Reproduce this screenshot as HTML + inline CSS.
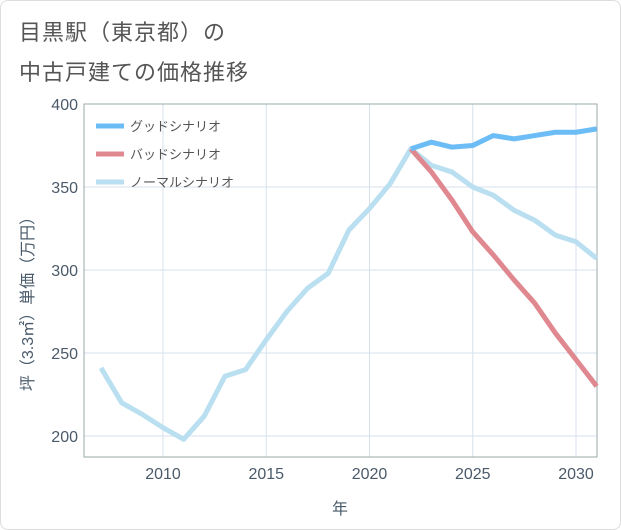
<!DOCTYPE html>
<html><head><meta charset="utf-8">
<style>
body{margin:0;background:#fff;}
#wrap{position:relative;width:619px;height:528px;border:1px solid #ddd;border-radius:8px;background:#fff;overflow:hidden;font-family:"Liberation Sans","Noto Sans CJK JP",sans-serif;}
.title{position:absolute;left:18px;font-size:22px;color:#555;letter-spacing:1px;}
</style></head><body>
<div id="wrap">
<div class="title" style="top:14px">目黒駅（東京都）の</div>
<div class="title" style="top:54px">中古戸建ての価格推移</div>
<svg id="chart" width="621" height="530" style="position:absolute;left:-1px;top:-1px"></svg>
</div>
<script>
const years=[2007,2008,2009,2010,2011,2012,2013,2014,2015,2016,2017,2018,2019,2020,2021,2022,2023,2024,2025,2026,2027,2028,2029,2030,2031];
const normalVals=[241,220,213,205,198,212,236,240,258,275,289,298,324,337,352,373,363,359,350,345,336,330,321,317,307];
const scenarioYears=[2022,2023,2024,2025,2026,2027,2028,2029,2030,2031];
const goodVals=[373,377,374,375,381,379,381,383,383,385];
const badVals=[373,359,342,323,309,294,280,262,246,230];
const xTicks=[2010,2015,2020,2025,2030];
const yTicks=[200,250,300,350,400];
const NS="http://www.w3.org/2000/svg";
const svg=document.getElementById('chart');
const L=84,R=597,T=104,B=457;
const x=v=>163+(v-2010)*(576-163)/20;
const y=v=>436-(v-200)*(436-104)/200;
function mk(tag,attrs){const e=document.createElementNS(NS,tag);for(const k in attrs)e.setAttribute(k,attrs[k]);svg.appendChild(e);return e;}
const bg=mk('rect',{x:L,y:T,width:R-L,height:B-T,fill:'#fff',stroke:'none'});


xTicks.forEach(t=>{
 const g=mk('line',{x1:x(t),x2:x(t),y1:T,y2:B,stroke:'#d5e2ec','stroke-width':1});
 
 
 const tx=mk('text',{x:x(t),y:B+22,'text-anchor':'middle','font-size':16,fill:'#4a5a6a'});
 tx.textContent=t;
 
 
});
yTicks.forEach(t=>{
 const g=mk('line',{x1:L,x2:R,y1:y(t),y2:y(t),stroke:'#d5e2ec','stroke-width':1});
 
 
 const tx=mk('text',{x:L-6,y:y(t)+6,'text-anchor':'end','font-size':16,fill:'#4a5a6a'});
 tx.textContent=t;
 
 
});
const fr=mk('rect',{x:L,y:T,width:R-L,height:B-T,fill:'none',stroke:'#9aa',"stroke-width":1});


function line(xs,vs,color,name){
 const p=mk('polyline',{points:xs.map((v,i)=>x(v)+','+y(vs[i])).join(' '),fill:'none',stroke:color,'stroke-width':5,'stroke-linejoin':'round'});
 
 
}
line(years,normalVals,'#b9dff0','normal-scenario-line');
line(scenarioYears,badVals,'#e08890','bad-scenario-line');
line(scenarioYears,goodVals,'#6cbcf5','good-scenario-line');
const leg=[['グッドシナリオ','#6cbcf5'],['バッドシナリオ','#e08890'],['ノーマルシナリオ','#b9dff0']];
leg.forEach((d,i)=>{
 const yy=126+i*28;
 const l=mk('line',{x1:96,x2:124,y1:yy,y2:yy,stroke:d[1],'stroke-width':5});
 
 
 const t=mk('text',{x:130,y:yy+5,'font-size':13,fill:'#555'});
 t.textContent=d[0];
 
 
});
const xt=mk('text',{x:340,y:514,'text-anchor':'middle','font-size':16,fill:'#4a5a6a'});
xt.textContent='年';


const yt=mk('text',{x:0,y:0,'text-anchor':'middle','font-size':16,fill:'#4a5a6a',transform:'translate(33,300) rotate(-90)'});
yt.textContent='坪（3.3㎡）単価（万円）';


</script>
</body></html>
